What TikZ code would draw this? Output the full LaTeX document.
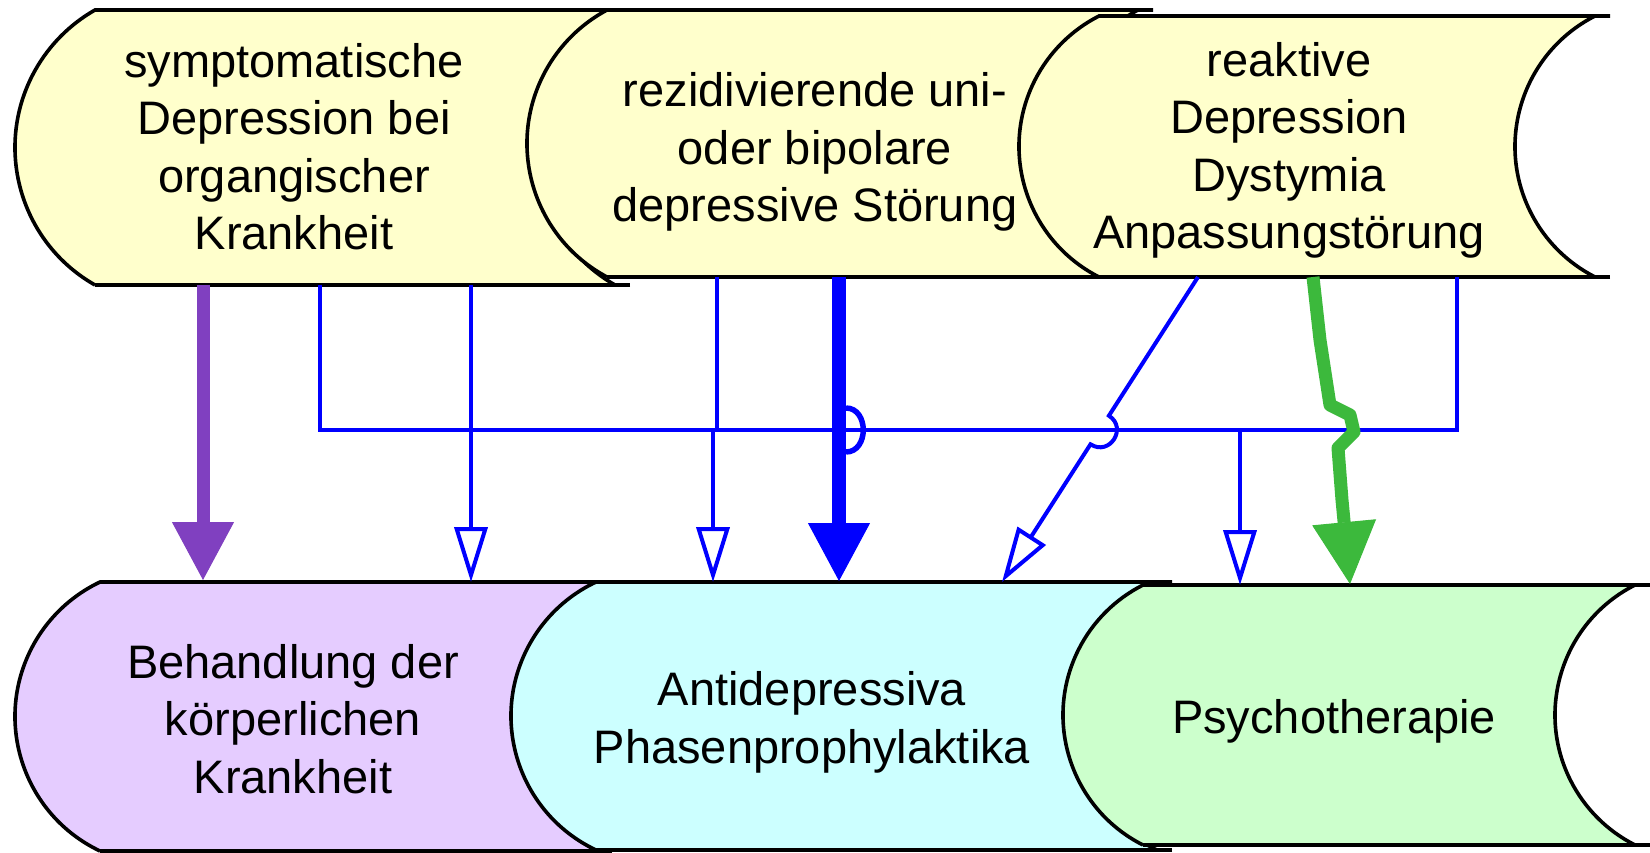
\documentclass[tikz,border=0pt]{standalone}
\usepackage{fontspec}
\setmainfont{Liberation Sans}
\usetikzlibrary{arrows.meta}
\definecolor{yel}{RGB}{255,255,204}
\definecolor{lil}{RGB}{229,204,255}
\definecolor{cya}{RGB}{204,255,255}
\definecolor{grn}{RGB}{204,255,204}
\definecolor{purp}{RGB}{128,64,192}
\definecolor{arrblue}{RGB}{0,0,255}
\definecolor{garr}{RGB}{60,185,60}
\newcommand\sst{\rule[-11pt]{0pt}{53pt}}
% #1 fill, #2 xl, #3 xr, #4 ytop, #5 ybot, #6 bulge, #7 end of top/bottom lines
\newcommand\tapebox[7]{%
  \pgfmathsetmacro\tpH{(#5-#4)/2}%
  \pgfmathsetmacro\tpR{(\tpH/(2*#6))*\tpH+#6/2}%
  \pgfmathsetmacro\tpT{asin(\tpH/\tpR)}%
  \fill[#1] (#2,#4) -- (#3,#4) arc[start angle=180+\tpT, end angle=180-\tpT, radius=\tpR]
     -- (#2,#5) arc[start angle=180-\tpT, end angle=180+\tpT, radius=\tpR] -- cycle;
  \draw[outline] (#2,#5) arc[start angle=180-\tpT, end angle=180+\tpT, radius=\tpR] -- (#7,#4);
  \draw[outline] (#3,#4) arc[start angle=180+\tpT, end angle=180-\tpT, radius=\tpR];
  \draw[outline] (#7,#5) -- (#2,#5);
}
\begin{document}
\begin{tikzpicture}[x=1pt,y=-1pt,
  outline/.style={draw=black, line width=3.6},
  lbl/.style={align=center, inner sep=0pt, text=black, font=\fontsize{47}{57.5}\selectfont},
  thinline/.style={draw=arrblue, line width=4},
  thinarrow/.style={draw=arrblue, line width=4, -{Triangle[length=55pt,width=33pt,fill=white]}},
  purparrow/.style={draw=purp, line width=13, -{Triangle[length=58pt,width=62pt,line width=1pt]}},
  bluearrow/.style={draw=arrblue, line width=14, -{Triangle[length=58pt,width=62pt,line width=1pt]}},
  greenarrow/.style={draw=garr, line width=13, line join=round, -{Triangle[length=62pt,width=64pt,line width=1pt]}}
]
\useasboundingbox (0,0) rectangle (1650,853);
\fill[white] (0,0) rectangle (1650,853);

% top shapes
\tapebox{yel}{95}{615}{10}{285}{80}{630}
\tapebox{yel}{607}{1138}{10}{277}{80}{1153}
\tapebox{yel}{1099}{1595}{16}{277}{80}{1610}
% bottom shapes
\tapebox{lil}{100}{598}{582}{851}{85}{612}
\tapebox{cya}{596}{1157}{582}{850}{85}{1172}
\tapebox{grn}{1143}{1635}{585}{845}{80}{1650}

% texts
\node[lbl] (t1) at (294,148) {\sst symptomatische\\\sst Depression bei\\\sst organgischer\\\sst Krankheit};
\node[lbl] (t2) at (815,149) {\sst rezidivierende uni-\\\sst oder bipolare\\\sst depressive Störung};
\node[lbl] (t3) at (1289,147) {\sst reaktive\\\sst Depression\\\sst Dystymia\\\sst Anpassungstörung};
\node[lbl] (t4) at (293,720) {\sst Behandlung der\\\sst körperlichen\\\sst Krankheit};
\node[lbl] (t5) at (812,719) {\sst Antidepressiva\\\sst Phasenprophylaktika};
\node[lbl] (t6) at (1334,717.5) {\sst Psychotherapie};

% connection points
\coordinate (pS) at (203,285);  \coordinate (pE) at (203,580);
\coordinate (s1a) at (320,285); \coordinate (busL) at (320,430);
\coordinate (busR) at (1457,430); \coordinate (s3a) at (1457,277);
\coordinate (s1b) at (471,285); \coordinate (e4) at (471,582);
\coordinate (s2a) at (717,277); \coordinate (j2) at (717,430);
\coordinate (j5) at (713,430);  \coordinate (e5a) at (713,582);
\coordinate (j6) at (1240,430); \coordinate (e6a) at (1240,585);
\coordinate (bS) at (839,277);  \coordinate (bE) at (839,581);
\coordinate (s3b) at (1198,277); \coordinate (e5b) at (1002,582);
\coordinate (s3c) at (1313,277); \coordinate (e6b) at (1350,584);

% connectors
\draw[purparrow] (pS) -- (pE);
\draw[thinline] (s1a) -- (busL) -- (busR) -- (s3a);
\draw[thinarrow] (s1b) -- (e4);
\draw[thinline] (s2a) -- (j2);
\draw[thinarrow] (j5) -- (e5a);
\draw[thinarrow] (j6) -- (e6a);
\draw[bluearrow] (bS) -- (bE);
\draw[draw=arrblue, line width=5.5] (846,408) .. controls (869,408) and (869,452) .. (846,452);
\draw[thinarrow] (s3b) -- (1108.9,415.7) .. controls (1128.0,428.0) and (1109.6,456.6) .. (1090.5,444.3) -- (e5b);
\draw[greenarrow] (s3c) -- (1320,340) -- (1330,405) -- (1350,415) -- (1354,432) -- (1338,448) -- (1342,500) -- (e6b);
\end{tikzpicture}
\end{document}
